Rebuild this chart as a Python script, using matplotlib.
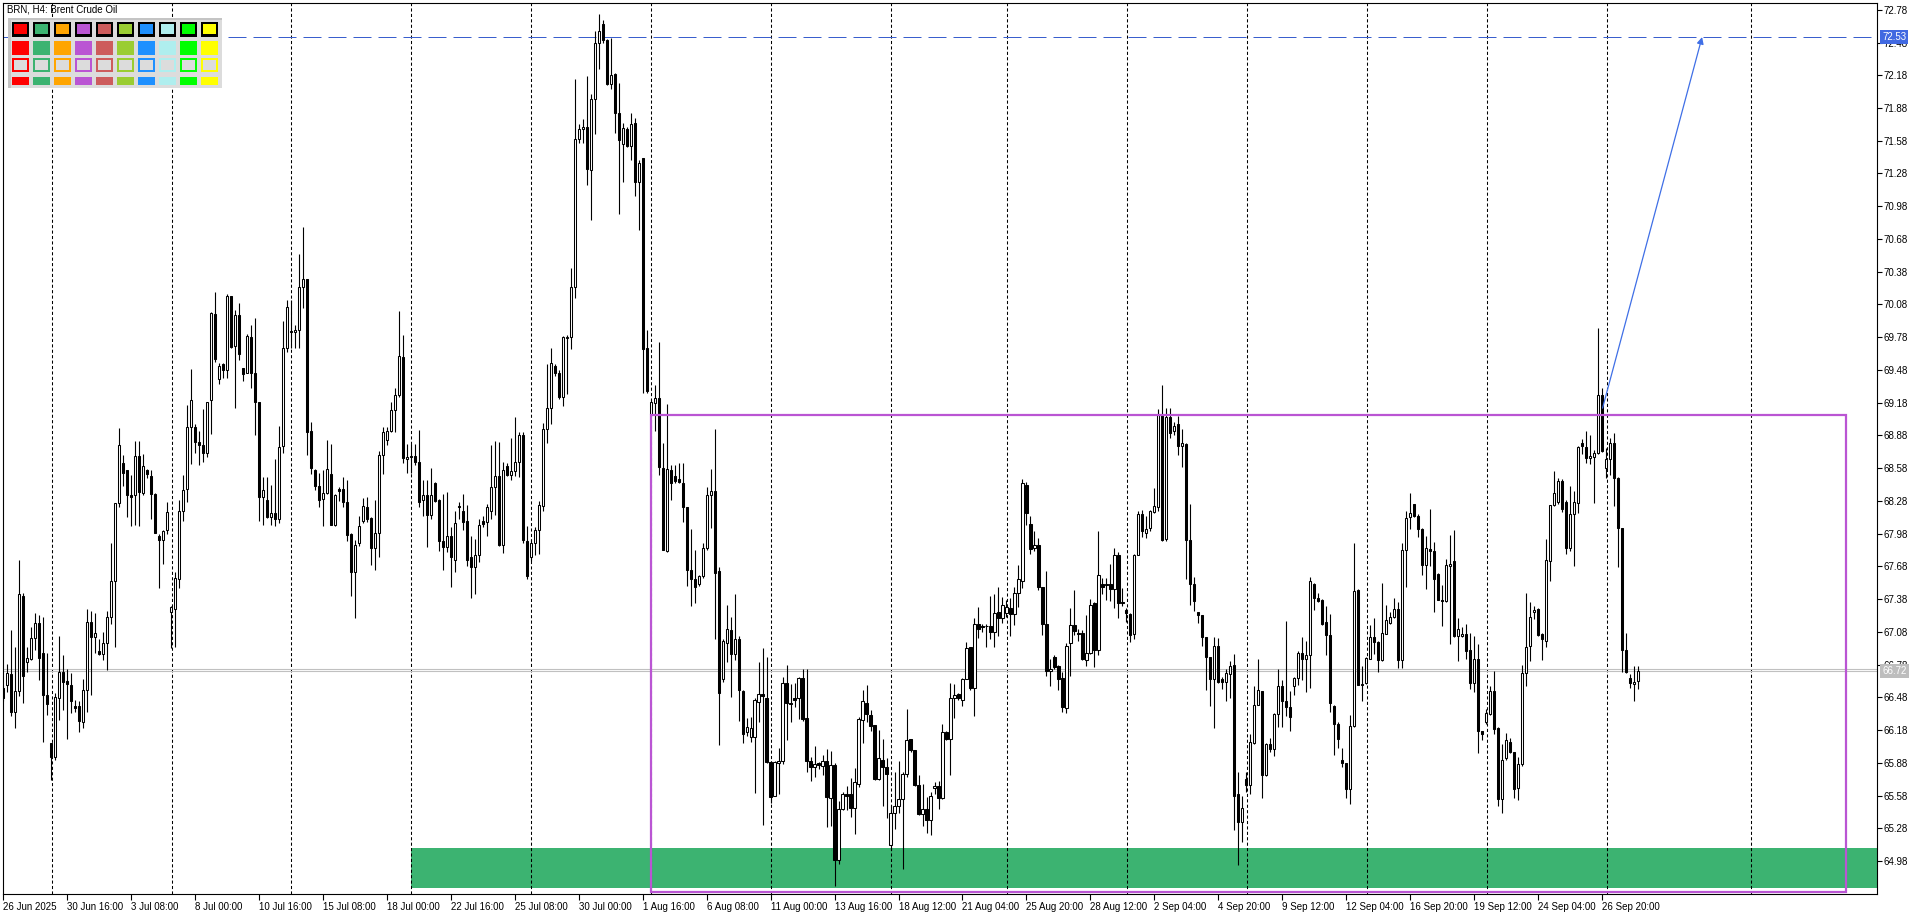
import matplotlib
matplotlib.use('Agg')
import matplotlib.pyplot as plt
from matplotlib.patches import Rectangle
import matplotlib.transforms as mtransforms

plt.rcParams['font.family'] = ['Liberation Sans', 'DejaVu Sans']

# ---------------- data (BRN, H4) ----------------
opens = [66.57,66.59,66.69,66.35,66.54,67.41,66.80,66.83,67.02,67.16,66.89,66.50,66.06,65.93,66.47,66.71,66.63,66.59,66.40,66.40,
66.25,66.55,67.17,67.03,66.90,66.88,66.98,67.22,67.55,68.26,68.63,68.56,68.33,68.33,68.69,68.35,68.56,68.51,68.34,67.96,
67.92,68.01,67.26,67.29,67.56,68.19,68.39,68.96,68.96,68.82,68.79,68.72,69.20,69.99,69.40,69.53,69.48,70.16,69.70,69.98,
69.50,69.45,69.78,69.45,69.19,68.32,68.29,68.13,68.17,68.11,68.78,69.68,69.84,69.83,69.85,70.24,70.31,68.92,68.56,68.42,
68.30,68.35,68.53,68.06,68.39,68.39,68.27,67.98,67.63,67.89,68.10,68.22,68.12,67.85,67.99,68.70,68.84,68.92,69.11,69.25,
69.60,68.66,68.69,68.69,68.64,68.29,68.33,68.15,68.44,68.29,67.91,67.86,67.96,67.74,68.23,68.19,68.10,67.77,67.67,67.78,
68.10,68.09,68.19,68.41,68.51,67.88,68.60,68.52,68.55,68.64,68.88,67.91,67.77,67.89,68.01,68.23,68.94,69.13,69.52,69.45,
69.23,69.77,69.78,70.24,71.60,71.69,71.71,71.31,71.96,72.48,72.65,72.50,72.10,72.19,71.83,71.55,71.69,71.53,71.74,71.20,
71.42,69.68,69.08,69.18,69.22,68.58,67.82,68.56,68.51,68.48,68.44,68.22,67.65,67.56,67.52,67.59,67.85,68.33,68.37,67.64,
66.65,66.98,67.10,66.88,67.01,66.54,66.16,66.12,66.12,66.44,66.51,66.47,65.89,65.58,65.88,65.90,66.61,66.43,66.47,66.47,
66.66,66.29,65.90,65.84,65.88,65.85,65.90,65.56,65.86,64.99,65.46,65.59,65.59,65.47,65.69,66.27,66.43,66.32,66.23,65.73,
65.91,65.84,65.13,65.42,65.48,65.55,65.78,66.10,66.00,65.68,65.41,65.46,65.36,65.65,65.67,65.56,66.16,66.10,66.47,66.51,
66.46,66.65,66.94,66.57,67.15,67.13,67.13,67.13,67.08,67.26,67.21,67.25,67.30,67.24,67.44,67.55,68.43,68.07,67.85,67.88,
67.49,67.15,66.72,66.85,66.77,66.66,66.38,66.98,67.14,67.07,67.07,66.82,66.89,67.34,66.91,67.52,67.52,67.52,67.47,67.78,
67.35,67.28,67.24,67.06,67.78,68.16,67.99,68.03,68.18,68.22,69.07,67.93,69.05,68.92,68.98,68.78,68.80,67.92,67.52,67.26,
67.23,67.03,66.85,66.65,66.95,66.65,66.62,66.69,66.78,65.59,65.34,65.73,65.68,66.06,66.41,66.54,65.77,66.05,66.01,66.33,
66.58,66.45,66.39,66.58,66.66,66.89,66.83,66.87,67.52,67.39,67.37,67.17,67.05,66.40,66.24,65.91,65.88,65.64,66.22,67.46,
66.59,66.61,66.83,67.03,66.99,66.82,67.06,67.16,67.22,67.29,66.82,67.83,68.13,68.25,68.14,68.02,67.69,67.84,67.82,67.61,
67.37,67.36,67.68,67.73,67.04,67.04,67.06,66.91,66.61,66.83,66.17,66.25,66.33,66.54,66.20,65.55,65.92,66.07,65.98,65.65,
65.87,66.70,66.95,67.26,67.29,67.06,67.00,67.73,68.24,68.27,68.46,68.27,67.85,68.16,68.26,68.81,68.77,68.67,68.68,68.72,
69.25,68.58,68.66,68.81,68.49,68.03,66.91,66.66,66.60,66.63]
highs = [66.59,66.79,67.10,66.94,67.74,67.44,66.94,67.12,67.25,67.23,67.22,66.89,66.06,66.52,67.04,66.87,66.74,66.70,66.46,66.45,
66.65,67.29,67.27,67.25,67.01,67.08,67.27,67.89,68.26,68.95,68.70,68.56,68.52,68.83,68.83,68.71,68.57,68.56,68.35,67.98,
68.01,68.27,67.32,67.63,68.29,68.52,69.16,69.49,68.98,68.92,69.12,69.19,70.01,70.19,69.54,69.54,70.18,70.16,70.03,70.09,
69.50,69.81,69.89,69.96,69.19,68.50,68.50,68.43,68.66,68.97,69.93,70.12,70.12,69.89,70.54,70.79,70.31,69.00,68.57,68.54,
68.56,68.84,68.80,68.34,68.41,68.50,68.47,67.99,67.92,68.14,68.31,68.32,68.13,68.29,68.74,68.96,68.96,69.19,69.31,70.02,
69.80,68.80,68.80,68.80,68.93,68.47,68.47,68.58,68.45,68.30,68.34,68.36,68.04,68.19,68.27,68.34,68.24,67.96,67.93,68.11,
68.14,68.25,68.79,68.83,68.82,68.64,68.63,68.86,69.05,68.91,68.91,68.05,67.93,68.04,68.28,68.99,69.53,69.68,69.53,69.48,
69.79,69.80,70.41,72.15,71.73,71.78,72.17,72.01,72.59,72.74,72.69,72.51,72.52,72.20,72.11,71.74,71.71,71.83,71.79,71.40,
71.42,69.85,69.21,69.34,69.74,68.81,69.17,68.61,68.61,68.63,68.63,68.22,68.02,67.83,67.60,67.89,68.41,68.57,68.94,67.67,
67.01,67.33,67.22,67.43,67.04,66.55,66.29,66.30,66.47,66.80,66.93,66.85,65.90,65.90,66.02,66.67,66.78,66.60,66.61,66.67,
66.74,66.74,65.93,66.03,65.89,65.95,66.01,65.99,65.88,65.53,65.61,65.67,65.74,65.83,66.30,66.55,66.59,66.36,66.23,66.18,
66.10,65.92,65.49,65.80,65.90,65.80,66.37,66.10,66.00,65.77,65.69,65.57,65.61,65.70,65.71,66.24,66.17,66.61,66.60,66.52,
66.66,66.99,66.94,67.21,67.31,67.15,67.15,67.41,67.43,67.49,67.40,67.37,67.39,67.49,67.69,68.48,68.45,68.14,68.00,67.94,
67.49,67.64,66.83,66.87,66.78,66.71,66.98,67.30,67.46,67.11,67.10,67.23,67.38,67.35,68.00,67.57,67.57,67.70,67.85,67.81,
67.48,67.30,67.25,67.79,68.19,68.20,68.14,68.20,68.40,69.12,69.34,69.13,69.13,69.00,69.06,68.94,68.81,68.25,67.58,67.26,
67.23,67.03,66.85,67.03,67.02,66.67,66.74,66.81,66.88,65.80,65.58,65.80,66.14,66.58,66.83,66.54,66.06,66.11,66.34,66.74,
66.64,67.18,66.54,66.67,66.90,67.03,67.00,67.58,67.53,67.44,67.38,67.32,67.24,66.41,66.25,66.02,65.88,66.32,67.89,67.47,
66.77,66.85,67.14,67.21,67.00,67.53,67.33,67.26,67.39,67.35,67.89,68.19,68.35,68.25,68.16,68.03,67.96,68.21,67.90,67.62,
67.51,67.75,67.97,68.01,67.21,67.12,67.15,67.07,67.04,66.97,66.17,66.37,66.58,66.72,66.21,66.05,66.15,66.11,65.98,65.93,
66.78,67.44,67.35,67.32,67.30,67.07,67.93,68.24,68.55,68.49,68.48,68.29,68.42,68.37,68.78,68.85,68.92,68.88,68.75,69.86,
69.31,68.76,68.86,68.90,68.50,68.03,67.07,66.69,66.77,66.77]
lows = [66.45,66.53,66.31,66.20,66.49,66.43,66.71,66.82,66.91,66.64,66.07,66.32,65.72,65.91,66.27,66.36,66.10,66.34,66.35,66.16,
66.20,66.35,66.50,66.89,66.87,66.82,66.73,67.15,66.94,68.22,68.42,68.13,68.05,68.06,68.05,68.33,68.49,68.11,67.99,67.48,
67.70,67.98,66.93,66.94,67.48,68.10,68.27,68.62,68.72,68.61,68.64,68.68,68.89,69.55,69.35,69.41,69.41,69.68,69.13,69.57,
69.38,69.45,69.31,68.88,68.10,68.06,68.12,68.06,68.05,68.08,68.72,69.64,69.68,69.68,69.68,70.05,68.70,68.53,68.38,68.22,
68.05,68.34,68.06,68.05,68.28,68.22,67.91,67.41,67.21,67.87,68.08,68.09,67.69,67.65,67.77,68.53,68.79,68.91,68.91,69.23,
68.63,68.54,68.54,68.61,68.22,68.14,67.86,68.11,68.27,67.82,67.65,67.81,67.49,67.63,68.11,68.01,67.68,67.39,67.43,67.72,
68.04,67.96,68.11,68.15,67.87,67.80,68.51,68.47,68.51,68.50,67.89,67.56,67.73,67.78,67.79,68.19,68.81,68.98,69.42,69.21,
69.15,69.26,69.67,70.14,71.56,71.56,71.17,70.85,71.64,72.24,72.48,72.09,72.05,71.65,70.91,71.20,71.52,71.40,71.07,70.76,
69.27,69.27,69.06,68.92,68.52,67.83,67.81,68.29,68.44,68.44,68.09,67.50,67.32,67.34,67.50,67.57,67.83,68.03,67.01,66.04,
66.62,66.80,66.48,66.82,66.26,66.06,66.13,66.07,65.60,66.25,65.31,65.88,65.51,65.58,65.59,65.87,66.09,66.25,66.39,66.28,
66.26,65.80,65.71,65.75,65.82,65.77,65.29,65.30,64.75,64.95,65.45,65.45,65.38,65.23,65.66,66.06,66.25,66.17,65.72,65.72,
65.48,65.37,65.08,65.27,65.42,64.91,65.75,65.98,65.67,65.40,65.30,65.24,65.22,65.59,65.46,65.55,66.09,65.77,66.29,66.46,
66.40,66.65,66.55,66.31,67.02,67.08,66.94,67.01,66.94,67.04,67.16,67.22,67.04,67.14,67.31,67.48,68.06,67.79,67.82,67.46,
67.05,66.68,66.58,66.74,66.55,66.35,66.34,66.68,67.05,67.00,66.82,66.77,66.88,66.76,66.87,67.43,67.37,67.36,67.30,67.21,
67.32,67.17,66.99,67.01,67.78,67.95,67.94,68.00,68.17,68.19,67.91,67.91,68.86,68.88,68.70,68.59,67.56,67.33,67.27,67.16,
66.95,66.55,66.40,66.20,66.61,66.56,66.45,66.47,65.26,64.94,65.15,65.61,65.59,66.05,66.41,65.56,65.76,65.98,65.94,66.21,
66.21,66.31,66.17,66.50,66.59,66.64,66.53,66.57,67.28,67.35,67.14,66.87,66.35,65.95,66.02,65.84,65.56,65.50,66.21,66.59,
66.45,66.60,66.83,66.88,66.71,66.81,67.06,67.15,67.21,66.75,66.75,67.49,68.02,68.13,67.95,67.60,67.47,67.68,67.26,67.37,
67.13,67.35,66.97,67.03,66.81,67.03,66.83,66.56,66.53,65.97,66.09,66.24,66.32,66.14,65.48,65.42,65.91,65.97,65.56,65.54,
65.85,66.58,66.81,67.20,67.04,66.82,66.94,67.55,68.23,68.25,68.18,67.79,67.82,67.68,68.17,68.71,68.63,68.62,68.26,68.71,
68.73,68.49,68.52,68.23,67.67,66.71,66.70,66.57,66.45,66.56]
closes = [66.47,66.70,66.35,66.54,67.43,66.68,66.84,67.02,67.16,66.84,66.50,66.42,65.93,66.48,66.71,66.62,66.60,66.45,66.38,66.26,
66.55,67.17,67.03,67.07,66.88,66.98,67.22,67.55,68.26,68.79,68.54,68.33,68.32,68.69,68.36,68.60,68.53,68.34,67.99,67.92,
68.00,68.18,67.31,67.57,68.19,68.38,68.96,69.20,68.82,68.79,68.72,69.19,70.00,69.58,69.52,69.48,70.16,69.69,69.98,69.63,
69.44,69.79,69.45,69.19,68.32,68.38,68.13,68.17,68.11,68.77,69.68,70.06,69.83,69.85,70.24,70.31,68.91,68.58,68.42,68.29,
68.35,68.57,68.06,68.33,68.37,68.27,67.97,67.63,67.88,68.05,68.23,68.11,67.85,67.99,68.70,68.91,68.92,69.11,69.25,69.61,
68.67,68.68,68.68,68.64,68.27,68.33,68.15,68.33,68.28,67.91,67.86,67.96,67.77,68.08,68.22,68.09,67.74,67.67,67.78,68.06,
68.07,68.22,68.41,68.51,67.88,68.56,68.52,68.55,68.64,68.88,67.92,67.59,67.89,68.01,68.24,68.94,69.13,69.54,69.45,69.23,
69.78,69.78,70.24,71.60,71.69,71.71,71.32,71.96,72.48,72.59,72.50,72.10,72.18,71.83,71.59,71.70,71.53,71.73,71.20,71.38,
69.67,69.29,69.19,69.22,68.59,67.83,68.57,68.44,68.46,68.45,68.22,67.65,67.56,67.49,67.59,67.85,68.33,68.37,67.62,66.52,
67.00,67.11,66.88,67.01,66.55,66.14,66.21,66.20,66.46,66.51,66.49,65.89,65.57,65.89,65.90,66.61,66.43,66.42,66.46,66.66,
66.28,65.90,65.84,65.87,65.86,65.90,65.57,65.86,64.99,65.46,65.59,65.58,65.47,65.70,66.28,66.45,66.33,66.22,65.73,65.92,
65.84,65.78,65.42,65.48,65.55,65.78,66.09,66.00,65.68,65.41,65.46,65.36,65.58,65.67,65.56,66.16,66.10,66.47,66.50,66.47,
66.65,66.93,66.57,67.15,67.11,67.12,67.13,67.08,67.25,67.21,67.33,67.31,67.24,67.44,67.56,68.44,68.17,67.84,67.88,67.49,
67.15,66.72,66.74,66.76,66.65,66.39,66.95,67.14,67.09,67.06,66.83,66.89,67.33,66.91,67.60,67.49,67.51,67.47,67.78,67.34,
67.34,67.25,67.05,67.78,68.16,68.00,68.02,68.19,68.23,69.07,67.92,69.05,68.90,68.97,68.78,68.81,67.92,67.52,67.36,67.23,
67.03,66.85,66.65,66.95,66.62,66.62,66.70,66.77,65.58,65.34,65.47,65.68,66.07,66.41,66.55,65.77,66.05,66.01,66.33,66.58,
66.45,66.39,66.30,66.66,66.89,66.83,66.87,67.55,67.39,67.36,67.15,67.05,66.43,66.24,66.10,65.88,65.64,66.22,67.45,66.59,
66.60,66.84,67.03,66.99,66.82,67.07,67.19,67.22,67.29,66.82,67.83,68.12,68.17,68.14,68.02,67.69,67.85,67.82,67.56,67.37,
67.36,67.69,67.70,67.04,67.11,67.06,66.90,66.61,66.83,66.17,66.14,66.34,66.54,66.19,65.55,65.91,66.09,65.98,65.64,65.87,
66.70,66.94,67.22,67.28,67.05,67.01,67.74,68.24,68.35,68.46,68.21,67.85,68.16,68.27,68.77,68.78,68.67,68.69,68.72,69.25,
68.74,68.66,68.81,68.49,68.03,66.91,66.71,66.61,66.62,66.72]

time_labels = ["26 Jun 2025", "30 Jun 16:00", "3 Jul 08:00", "8 Jul 00:00", "10 Jul 16:00", "15 Jul 08:00",
               "18 Jul 00:00", "22 Jul 16:00", "25 Jul 08:00", "30 Jul 00:00", "1 Aug 16:00", "6 Aug 08:00",
               "11 Aug 00:00", "13 Aug 16:00", "18 Aug 12:00", "21 Aug 04:00", "25 Aug 20:00", "28 Aug 12:00",
               "2 Sep 04:00", "4 Sep 20:00", "9 Sep 12:00", "12 Sep 04:00", "16 Sep 20:00", "19 Sep 12:00",
               "24 Sep 04:00", "26 Sep 20:00"]
time_label_bars = [0, 16, 32, 48, 64, 80, 96, 112, 128, 144, 160, 176, 192, 208, 224, 240, 256, 272,
                   288, 304, 320, 336, 352, 368, 384, 400]
week_start_bars = [12, 42, 72, 102, 132, 162, 192, 222, 251, 281, 311, 341, 371, 401, 437]
price_labels = ["72.78", "72.48", "72.18", "71.88", "71.58", "71.28", "70.98", "70.68", "70.38", "70.08",
                "69.78", "69.48", "69.18", "68.88", "68.58", "68.28", "67.98", "67.68", "67.38", "67.08",
                "66.78", "66.48", "66.18", "65.88", "65.58", "65.28", "64.98"]

bid_price = 66.72
ask_price = 66.74
target_price = 72.53
support_zone = (64.73, 65.10)      # low, high
support_start_bar = 102
range_box = (162, 461, 64.70, 69.07)  # bar start, bar end, low, high
arrow_start = (400.1, 69.13)
arrow_end = (425.0, 72.53)

palette = ['#FF0000', '#3CB371', '#FFA500', '#BA55D3', '#CD5C5C',
           '#9ACD32', '#1E90FF', '#AFEEEE', '#00FF00', '#FFFF00']

# ---------------- figure ----------------
W, H = 1920, 915
fig = plt.figure(figsize=(W / 100, H / 100), dpi=100)
fig.patch.set_facecolor('white')
ax = fig.add_axes([3 / W, 21 / H, 1874 / W, 891 / H])
ax.set_xlim(0.25, 468.75)
ax.set_ylim(64.678, 72.842)
ax.set_facecolor('white')

for s in ax.spines.values():
    s.set_color('black')
    s.set_linewidth(0.8)

# weekly grid
for b in week_start_bars:
    ax.axvline(b + 0.15, color='black', lw=0.75, ls=(0, (3, 2.2)), zorder=1)

# support zone (green) and range box (purple)
ax.add_patch(Rectangle((support_start_bar, support_zone[0]), 500, support_zone[1] - support_zone[0],
                       facecolor='#3CB371', edgecolor='none', zorder=0.5))
ax.add_patch(Rectangle((range_box[0], range_box[2]), range_box[1] - range_box[0], range_box[3] - range_box[2],
                       facecolor='none', edgecolor='#BA55D3', lw=1.6, zorder=4))

# target dashed line
ax.axhline(target_price, color='#3A5FCD', lw=0.72, ls=(0, (18, 7)), zorder=1.2)
# bid / ask lines
ax.axhline(bid_price, color='#C0C0C0', lw=0.8, zorder=1.2)
ax.axhline(ask_price, color='#C0C0C0', lw=0.8, zorder=1.2)

# candles
idx = list(range(len(closes)))
ax.vlines(idx, lows, highs, colors='black', linewidth=0.8, zorder=2)
bottoms = [min(o, c) for o, c in zip(opens, closes)]
heights = [max(abs(c - o), 0.006) for o, c in zip(opens, closes)]
colors = ['white' if c >= o else 'black' for o, c in zip(opens, closes)]
ax.bar(idx, heights, bottom=bottoms, width=0.55, color=colors, edgecolor='black', linewidth=0.75, zorder=3)

# arrow
ax.annotate('', xy=arrow_end, xytext=arrow_start,
            arrowprops=dict(arrowstyle='-|>', color='#3F6FE6', lw=0.9, mutation_scale=10,
                            shrinkA=0, shrinkB=0), zorder=5)

# axes ticks
ax.yaxis.tick_right()
ax.set_yticks([float(p) for p in price_labels])
ax.set_yticklabels(price_labels)
ax.tick_params(axis='y', direction='out', length=3.5, width=0.8, pad=1.5, labelsize=7, colors='black')
ax.set_xticks(time_label_bars)
ax.set_xticklabels(time_labels)
ax.tick_params(axis='x', direction='out', length=4, width=0.8, pad=2, labelsize=7)
for lab in ax.get_xticklabels():
    lab.set_horizontalalignment('left')

# price boxes on the right axis
blend = mtransforms.blended_transform_factory(ax.transAxes, ax.transData)
ax.text(1.0028, target_price, '72.53', transform=blend, ha='left', va='center', fontsize=7, color='white',
        bbox=dict(boxstyle='square,pad=0.2', fc='#4169E1', ec='none'), zorder=10, clip_on=False)
ax.text(1.0028, bid_price, '66.72', transform=blend, ha='left', va='center', fontsize=7, color='white',
        bbox=dict(boxstyle='square,pad=0.2', fc='#BDBDBD', ec='none'), zorder=10, clip_on=False)

# ---------------- overlay: title + palette ----------------
ov = fig.add_axes([0, 0, 1, 1])
ov.set_xlim(0, W)
ov.set_ylim(H, 0)
ov.axis('off')
ov.patch.set_alpha(0)

ov.add_patch(Rectangle((8.3, 17.5), 213.4, 70, facecolor='#DCDCDC', edgecolor='none'))
ov.add_patch(Rectangle((8.3, 17.5), 213.4, 2.5, facecolor='#C4C4C4', edgecolor='none'))
ov.add_patch(Rectangle((8.3, 17.5), 2.3, 70, facecolor='#C4C4C4', edgecolor='none'))
ov.text(7, 9.5, 'BRN, H4: Brent Crude Oil', fontsize=7, va='center', ha='left', color='black')

for k, col in enumerate(palette):
    x0 = 12.3 + 21 * k
    # row 1: colour with black frame
    ov.add_patch(Rectangle((x0, 22), 17, 14.5, facecolor='black', edgecolor='none'))
    ov.add_patch(Rectangle((x0 + 1.5, 23.5), 13.5, 10.5, facecolor=col, edgecolor='none'))
    # row 2: plain colour
    ov.add_patch(Rectangle((x0, 40.7), 17, 14.3, facecolor=col, edgecolor='none'))
    # row 3: coloured frame
    ov.add_patch(Rectangle((x0, 58.3), 17, 13.4, facecolor=col, edgecolor='none'))
    ov.add_patch(Rectangle((x0 + 1.8, 60.1), 13.2, 9.6, facecolor='#DCDCDC', edgecolor='none'))
    # row 4: short bar
    ov.add_patch(Rectangle((x0, 77.3), 17, 7.7, facecolor=col, edgecolor='none'))

fig.savefig('out.png', dpi=100, facecolor='white')
